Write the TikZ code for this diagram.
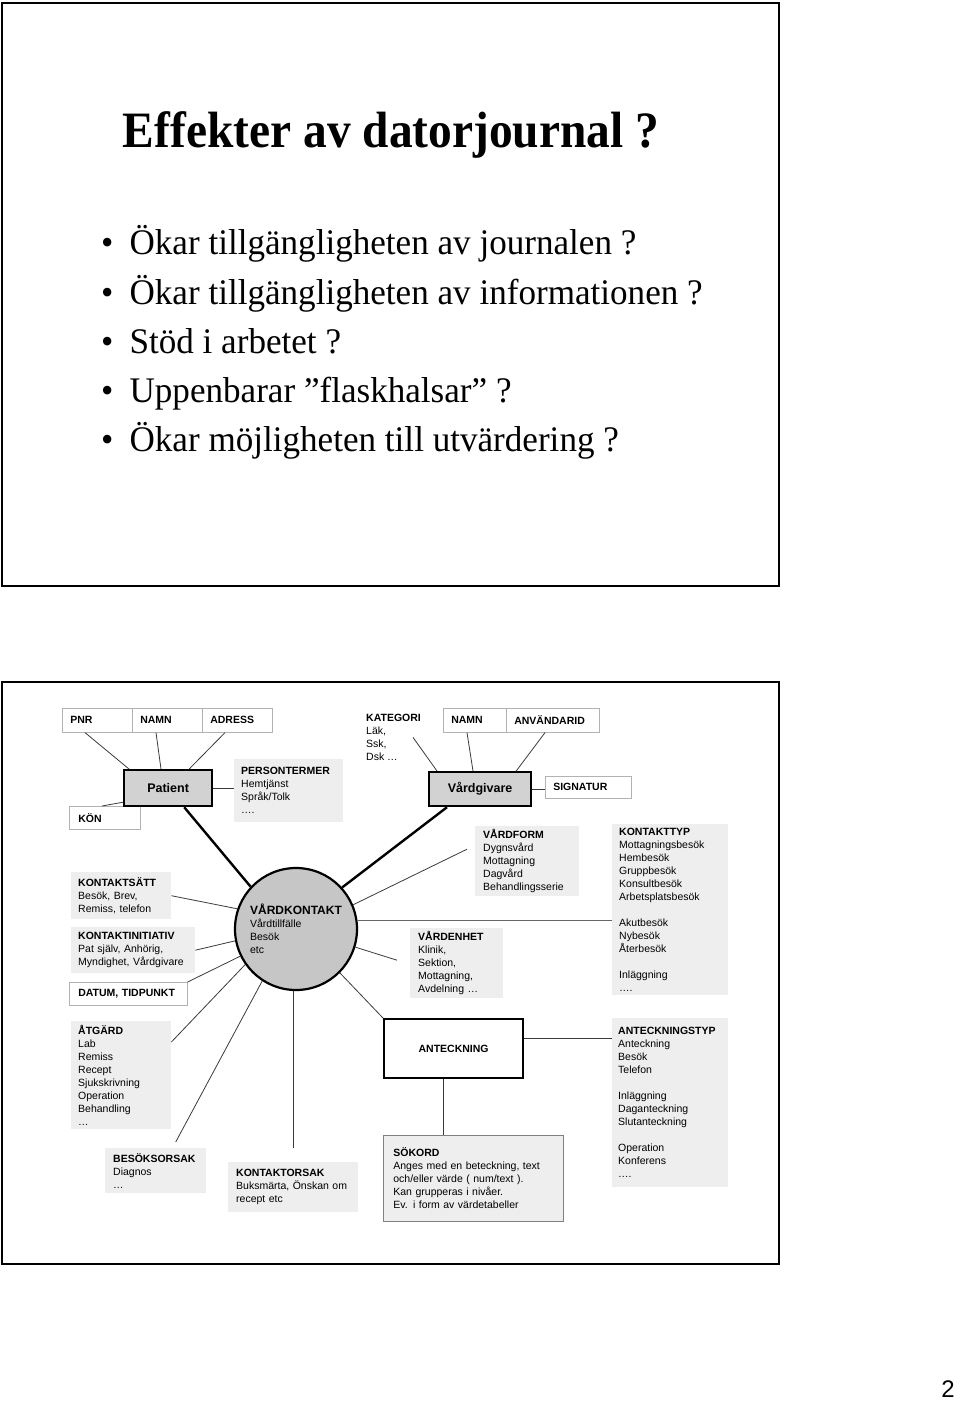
\documentclass[tikz,border=0pt]{standalone}
\usepackage{fontspec}
\setmainfont{Liberation Serif}
\setsansfont{Liberation Sans}
\usepackage{graphicx}

\definecolor{infogray}{HTML}{EEEEEE}
\definecolor{entgray}{HTML}{D2D2D2}
\definecolor{hubgray}{HTML}{C6C6C6}
\definecolor{linkgray}{HTML}{3A3A3A}

\newcommand{\boxfont}{\sffamily\fontsize{10.5}{13}\selectfont}

\tikzset{
	attrbox/.style={draw=gray!60, line width=0.6pt, fill=white, anchor=north west, inner xsep=8pt, inner ysep=0pt, align=left, font=\boxfont\bfseries},
	infobox/.style={fill=infogray, anchor=north west, inner xsep=7pt, inner ysep=0pt, align=left, font=\boxfont},
	entity/.style={draw=black, line width=2.2pt, fill=entgray, anchor=north west, inner sep=0pt, font=\sffamily\bfseries\fontsize{12.5}{15}\selectfont},
	hub/.style={circle, draw=black, line width=2.2pt, fill=hubgray, minimum size=122pt, inner sep=0pt, align=left, font=\boxfont},
	link/.style={draw=linkgray, line width=0.8pt},
	typlink/.style={draw=gray!80!black, line width=1.3pt},
	strong/.style={draw=black, line width=2.4pt},
	punkt/.style={anchor=base west, inner sep=0pt, font=\fontsize{36}{44}\selectfont},
}

\begin{document}
\begin{tikzpicture}[x=1pt, y=-1pt]

	\useasboundingbox (0,0) rectangle (960,1401);

	% first slide
	\draw[line width=1.6pt] (2,3) rectangle (779,586);
	\node[anchor=base, inner sep=0pt] (title) at (391,147) {\scalebox{0.93}[1]{\fontsize{51}{58}\selectfont\bfseries Effekter av datorjournal ?}};
	\node[punkt] (b1) at (101,254) {\scalebox{0.975}[1]{•\hspace{16.5pt}Ökar tillgängligheten av journalen ?}};
	\node[punkt] (b2) at (101,304) {\scalebox{0.975}[1]{•\hspace{16.5pt}Ökar tillgängligheten av informationen ?}};
	\node[punkt] (b3) at (101,353) {\scalebox{0.975}[1]{•\hspace{16.5pt}Stöd i arbetet ?}};
	\node[punkt] (b4) at (101,402) {\scalebox{0.975}[1]{•\hspace{16.5pt}Uppenbarar ”flaskhalsar” ?}};
	\node[punkt] (b5) at (101,451) {\scalebox{0.975}[1]{•\hspace{16.5pt}Ökar möjligheten till utvärdering ?}};

	% second slide
	\draw[line width=1.6pt] (2,682) rectangle (779,1264);

	% patient side
	\node[attrbox, text width=54pt, minimum height=24pt] (pnr) at (62,708) {PNR};
	\node[attrbox, text width=54pt, minimum height=24pt] (namn) at (132,708) {NAMN};
	\node[attrbox, text width=54pt, minimum height=24pt] (adress) at (202,708) {ADRESS};
	\node[attrbox, inner xsep=9pt, text width=53pt, minimum height=23pt] (kon) at (69,806) {KÖN};
	\node[entity, minimum width=88pt, minimum height=36pt] (patient) at (123,769) {Patient};
	\node[infobox, text width=95pt, minimum height=63pt] (person) at (234,759) {\textbf{PERSONTERMER}\\Hemtjänst\\Språk/Tolk\\….};

	\node[infobox, text width=86pt, minimum height=47pt] (ksatt) at (71,872) {\textbf{KONTAKTSÄTT}\\Besök, Brev,\\Remiss, telefon};
	\node[infobox, text width=110pt, minimum height=46pt] (kinit) at (71,927) {\textbf{KONTAKTINITIATIV}\\Pat själv, Anhörig,\\Myndighet, Vårdgivare};
	\node[attrbox, inner xsep=9pt, text width=100pt, minimum height=23pt] (datum) at (69,982) {DATUM, TIDPUNKT};

	\node[hub] (vk) at (296,929) {{\fontsize{12}{14}\selectfont\bfseries VÅRDKONTAKT}\\Vårdtillfälle\\Besök\\etc};

	% vardgivare side
	\node[anchor=north west, inner sep=0pt, align=left, font=\boxfont] (kat) at (366,714) {\textbf{KATEGORI}\\Läk,\\Ssk,\\Dsk …};
	\node[attrbox, text width=47pt, minimum height=24pt] (vgnamn) at (443,708) {NAMN};
	\node[attrbox, text width=77pt, minimum height=24pt] (anvid) at (506,708) {ANVÄNDARID};
	\node[entity, minimum width=102pt, minimum height=34pt] (vg) at (428,771) {Vårdgivare};
	\node[attrbox, text width=70pt, minimum height=22pt] (sign) at (545,776) {SIGNATUR};

	\node[infobox, inner xsep=8pt, text width=88pt, minimum height=70pt] (vform) at (475,826) {\textbf{VÅRDFORM}\\Dygnsvård\\Mottagning\\Dagvård\\Behandlingsserie};
	\node[infobox, text width=102pt, minimum height=171pt] (ktyp) at (612,824) {\textbf{KONTAKTTYP}\\Mottagningsbesök\\Hembesök\\Gruppbesök\\Konsultbesök\\Arbetsplatsbesök\\[13pt]Akutbesök\\Nybesök\\Återbesök\\[13pt]Inläggning\\….};
	\node[infobox, inner xsep=8pt, text width=77pt, minimum height=70pt] (venhet) at (410,928) {\textbf{VÅRDENHET}\\Klinik,\\Sektion,\\Mottagning,\\Avdelning …};

	% lower part
	\node[infobox, text width=86pt, minimum height=108pt] (atgard) at (71,1021) {\textbf{ÅTGÄRD}\\Lab\\Remiss\\Recept\\Sjukskrivning\\Operation\\Behandling\\…};
	\node[infobox, inner xsep=8pt, text width=85pt, minimum height=45pt] (bsorsak) at (105,1148) {\textbf{BESÖKSORSAK}\\Diagnos\\…};
	\node[infobox, inner xsep=8pt, text width=114pt, minimum height=50pt] (korsak) at (228,1162) {\textbf{KONTAKTORSAK}\\Buksmärta, Önskan om\\recept etc};
	\node[entity, fill=white, font=\boxfont\bfseries, minimum width=139pt, minimum height=59pt] (ant) at (383,1018) {ANTECKNING};
	\node[infobox, inner xsep=6pt, text width=104pt, minimum height=169pt] (anttyp) at (612,1018) {\textbf{ANTECKNINGSTYP}\\Anteckning\\Besök\\Telefon\\[13pt]Inläggning\\Daganteckning\\Slutanteckning\\[13pt]Operation\\Konferens\\….};
	\node[infobox, draw=gray, line width=0.8pt, inner xsep=10pt, text width=160pt, minimum height=86pt] (sokord) at (383,1135) {\textbf{SÖKORD}\\Anges med en beteckning, text\\och/eller värde ( num/text ).\\Kan grupperas i nivåer.\\Ev. i form av värdetabeller};

	\node[anchor=base east, inner sep=0pt, font=\sffamily\fontsize{24}{28}\selectfont] (pagenr) at (955,1397) {2};

	% connectors
	\draw[link] ([xshift=23pt]pnr.south west) -- ([xshift=6pt]patient.north west);
	\draw[link] ([xshift=24pt]namn.south west) -- ([xshift=38pt]patient.north west);
	\draw[link] ([xshift=23pt]adress.south west) -- ([xshift=-24pt]patient.north east);
	\draw[link] ([xshift=33pt]kon.north west) -- ([yshift=5pt]patient.south west);
	\draw[link] (patient.east) -- (patient.east -| person.west);
	\draw[strong] ([xshift=-29pt]patient.south east) -- (vk.137);

	\draw[link] (ksatt.east) -- (vk.161);
	\draw[link] (kinit.east) -- (vk.191);
	\draw[link] (datum.north east) -- (vk.206);
	\draw[link] (vk.215) -- ([yshift=-21pt]atgard.north east);
	\draw[link] (vk.237) -- ([xshift=20pt,yshift=6pt]bsorsak.north);
	\coordinate (orsakend) at ([xshift=65pt,yshift=14pt]korsak.north west);
	\draw[link] (orsakend |- vk.south) -- (orsakend);
	\draw[link] (vk.-45) -- (ant.north west);
	\draw[link] (vk.-17) -- ([xshift=-13pt,yshift=3pt]venhet.west);
	\draw[link] (vk.23) -- ([xshift=-8pt,yshift=12pt]vform.west);
	\draw[typlink] (vk.8) -- (vk.8 -| ktyp.west);

	\draw[strong] ([xshift=19pt]vg.south west) -- (vk.42);
	\draw[link] ([xshift=-8pt]kat.east) -- ([xshift=9pt]vg.north west);
	\draw[link] ([xshift=24pt]vgnamn.south west) -- ([xshift=45pt]vg.north west);
	\draw[link] ([xshift=39pt]anvid.south west) -- ([xshift=-16pt]vg.north east);
	\draw[link] (vg.east) -- (vg.east -| sign.west);

	\draw[link] ([yshift=10pt]ant.east) -- ([yshift=10pt]ant.east -| anttyp.west);
	\draw[link] ([xshift=60pt]ant.south west) -- ([xshift=60pt]sokord.north west);

\end{tikzpicture}
\end{document}
